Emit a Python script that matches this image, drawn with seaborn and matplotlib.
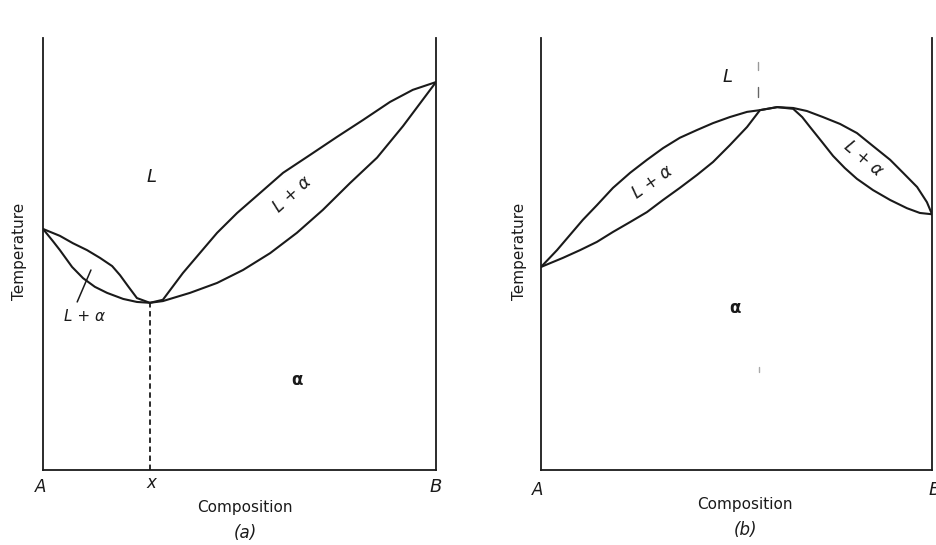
import numpy as np
import pandas as pd
import seaborn as sns
import matplotlib.pyplot as plt

# composition in % B, temperature in arbitrary units (0 = bottom axis, 100 = top)

# (a) minimum-melting system
a_min_x = 27.2
a_min_T = 38.7

a_liq_x = [0, 4.3, 7.6, 11.2, 14.5, 17.6, 19.6, 21.6, 23.9, 27.2,
           30.5, 35.6, 39.9, 44.3, 49.4, 55.2, 61.1, 67.9, 74.8, 81.4, 88.3, 94.1, 100]
a_liq_T = [55.8, 54.2, 52.5, 50.9, 49.1, 47.2, 45.1, 42.6, 39.8, 38.7,
           39.4, 45.6, 50.2, 54.9, 59.5, 64.1, 68.8, 72.9, 77.1, 81.0, 85.2, 88.0, 89.8]
a_sol_x = [0, 2.5, 4.3, 7.4, 10.2, 13.2, 16.3, 20.4, 23.9, 27.2,
           30.5, 37.4, 44.3, 50.9, 57.8, 64.6, 71.2, 78.1, 85.0, 91.6, 100]
a_sol_T = [55.8, 53.0, 50.9, 47.0, 44.4, 42.4, 41.0, 39.6, 38.9, 38.7,
           39.1, 41.0, 43.3, 46.3, 50.2, 54.9, 60.2, 66.4, 72.3, 79.6, 89.8]

# (b) maximum-melting system
b_liq_x = [0, 4.1, 7.4, 10.7, 14.3, 18.4, 22.8, 27.1, 31.2, 35.5, 39.9, 44.0, 48.3, 52.7, 56.0,
           60.4, 64.5, 68.0, 72.1, 76.5, 80.8, 84.9, 89.3, 92.6, 96.2, 98.7, 100]
b_liq_T = [47.0, 50.9, 54.4, 57.9, 61.3, 65.3, 68.8, 71.8, 74.5, 76.9, 78.7, 80.3, 81.7, 82.9, 83.3,
           84.0, 83.8, 83.1, 81.7, 80.1, 78.0, 75.0, 71.8, 68.8, 65.5, 62.0, 59.2]
b_sol_x = [0, 5.6, 10.0, 14.3, 18.4, 22.8, 27.1, 31.2, 35.5, 39.9, 44.0, 48.3, 52.7, 56.0,
           60.4, 64.5, 66.8, 68.8, 71.9, 74.7, 77.7, 80.8, 84.9, 89.3, 93.6, 96.9, 100]
b_sol_T = [47.0, 49.1, 50.9, 52.8, 55.1, 57.4, 59.7, 62.5, 65.3, 68.3, 71.3, 75.2, 79.4, 83.3,
           84.0, 83.6, 81.7, 79.4, 75.9, 72.7, 69.9, 67.4, 64.8, 62.5, 60.6, 59.5, 59.2]

ink = '#1a1a1a'

sns.set_style('white')
plt.rcParams['font.family'] = ['DejaVu Sans']

fig = plt.figure(figsize=(9.37, 5.45), dpi=100)
ax_a = fig.add_axes([43 / 937, 75 / 545, 393 / 937, 432 / 545])
ax_b = fig.add_axes([541 / 937, 75 / 545, 391 / 937, 432 / 545])


def frame(ax):
    ax.set_xlim(0, 100)
    ax.set_ylim(0, 100)
    ax.set_xticks([])
    ax.set_yticks([])
    ax.set_xlabel('')
    ax.set_ylabel('')
    for side in ['left', 'right', 'bottom']:
        ax.spines[side].set_visible(True)
        ax.spines[side].set_color(ink)
        ax.spines[side].set_linewidth(1.3)
    ax.spines['top'].set_visible(False)
    ax.patch.set_alpha(0)


# ---- panel (a)
liq_a = pd.DataFrame({'x': a_liq_x, 'T': a_liq_T})
sol_a = pd.DataFrame({'x': a_sol_x, 'T': a_sol_T})
sns.lineplot(data=liq_a, x='x', y='T', sort=False, color=ink, lw=1.5, ax=ax_a)
sns.lineplot(data=sol_a, x='x', y='T', sort=False, color=ink, lw=1.5, ax=ax_a)
ax_a.plot([a_min_x, a_min_x], [0, a_min_T], color=ink, lw=1.3, ls=(0, (3, 2)))
frame(ax_a)

ax_a.text(27.5, 67.8, 'L', style='italic', fontsize=13, ha='center', va='center', color=ink)
ax_a.text(63.4, 63.7, 'L + α', style='italic', fontsize=12, ha='center', va='center',
          rotation=42, color=ink)
ax_a.text(10.5, 35.6, 'L + α', style='italic', fontsize=11, ha='center', va='center', color=ink)
ax_a.plot([8.7, 12.2], [38.9, 46.3], color=ink, lw=1.1)
ax_a.text(64.6, 20.8, 'α', fontsize=12, fontweight='bold', ha='center', va='center', color=ink)

ax_a.text(-0.5, -3.9, 'A', style='italic', fontsize=12, ha='center', va='center', color=ink)
ax_a.text(a_min_x + 0.5, -3.0, 'x', style='italic', fontsize=12, ha='center', va='center', color=ink)
ax_a.text(100, -3.9, 'B', style='italic', fontsize=13, ha='center', va='center', color=ink)
ax_a.text(51.4, -8.6, 'Composition', fontsize=11, ha='center', va='center', color=ink)
ax_a.text(51.4, -14.6, '(a)', style='italic', fontsize=12, ha='center', va='center', color=ink)
ax_a.text(-6.0, 50.5, 'Temperature', fontsize=11, rotation=90, ha='center', va='center', color=ink)

# ---- panel (b)
liq_b = pd.DataFrame({'x': b_liq_x, 'T': b_liq_T})
sol_b = pd.DataFrame({'x': b_sol_x, 'T': b_sol_T})
sns.lineplot(data=liq_b, x='x', y='T', sort=False, color=ink, lw=1.5, ax=ax_b)
sns.lineplot(data=sol_b, x='x', y='T', sort=False, color=ink, lw=1.5, ax=ax_b)
frame(ax_b)
# faint remains of the dashed line through the maximum
ax_b.plot([55.5, 55.5], [86.3, 88.6], color='#666666', lw=1.0)
ax_b.plot([55.5, 55.5], [92.5, 94.5], color='#999999', lw=1.0)
ax_b.plot([55.7, 55.7], [22.7, 23.8], color='#aaaaaa', lw=1.0)

ax_b.text(47.6, 91.0, 'L', style='italic', fontsize=13, ha='center', va='center', color=ink)
ax_b.text(28.6, 66.7, 'L + α', style='italic', fontsize=12, ha='center', va='center',
          rotation=35, color=ink)
ax_b.text(82.4, 72.2, 'L + α', style='italic', fontsize=12, ha='center', va='center',
          rotation=-40, color=ink)
ax_b.text(49.6, 37.5, 'α', fontsize=12, fontweight='bold', ha='center', va='center', color=ink)

ax_b.text(-1, -4.6, 'A', style='italic', fontsize=12, ha='center', va='center', color=ink)
ax_b.text(100.8, -4.6, 'B', style='italic', fontsize=13, ha='center', va='center', color=ink)
ax_b.text(52.2, -8.1, 'Composition', fontsize=11, ha='center', va='center', color=ink)
ax_b.text(52.2, -13.9, '(b)', style='italic', fontsize=12, ha='center', va='center', color=ink)
ax_b.text(-5.4, 50.5, 'Temperature', fontsize=11, rotation=90, ha='center', va='center', color=ink)

fig.savefig('out.png', dpi=100, facecolor='white')
